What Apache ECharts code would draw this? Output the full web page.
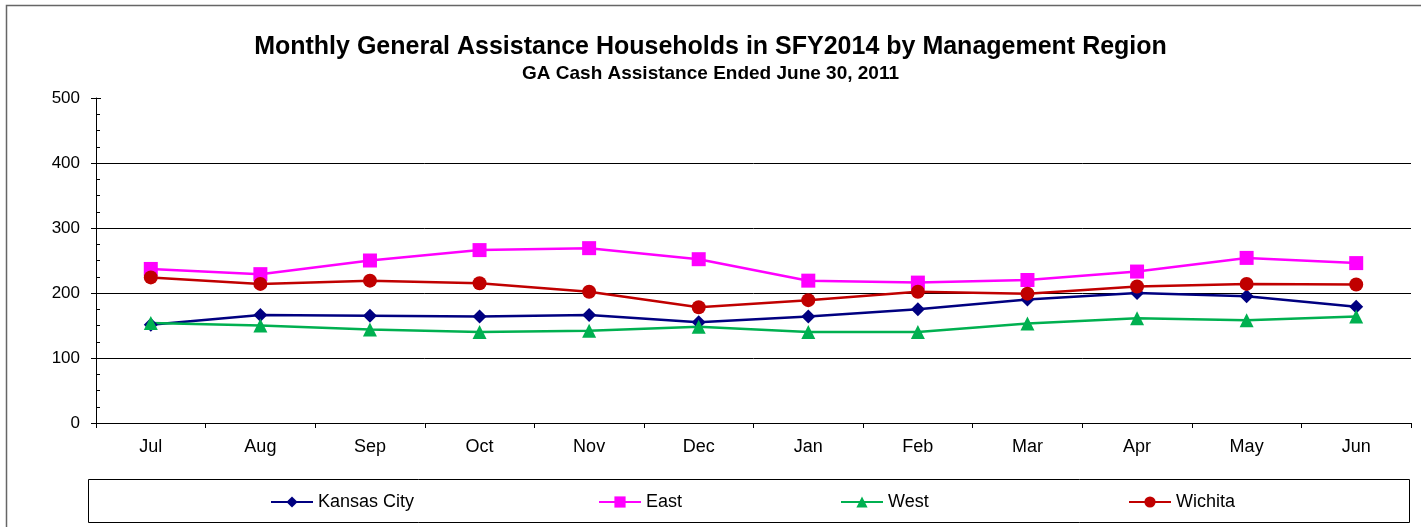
<!DOCTYPE html>
<html>
<head>
<meta charset="utf-8">
<script src="https://cdn.jsdelivr.net/npm/echarts@6/dist/echarts.min.js"></script>
<style>
  html, body { margin: 0; padding: 0; background: #fff; }
  #main { width: 1421px; height: 527px; }
</style>
</head>
<body>
<div id="main"></div>
<script>
// months of SFY2014
var months = ['Jul', 'Aug', 'Sep', 'Oct', 'Nov', 'Dec', 'Jan', 'Feb', 'Mar', 'Apr', 'May', 'Jun'];
// households per region
var kansasCity = [151, 166, 165, 164, 166, 155, 164, 175, 190, 200, 195, 179];
var east = [237, 229, 250, 266, 269, 252, 219, 216, 220, 233, 254, 246];
var west = [154, 150, 144, 140, 142, 148, 140, 140, 153, 161, 158, 164];
var wichita = [224, 214, 219, 215, 202, 178, 189, 202, 199, 210, 214, 213];

var font = 'Liberation Sans, Arial, sans-serif';

function makeSeries(name, data, color, symbol) {
	return {
		name: name,
		type: 'line',
		data: data,
		symbol: symbol,
		symbolSize: 14,
		lineStyle: { color: color, width: 2.5 },
		itemStyle: { color: color },
		emphasis: { disabled: true },
		z: 3
	};
}

function makeLegend(name, left) {
	return {
		data: [name],
		left: left,
		top: 493,
		padding: 0,
		itemWidth: 42,
		itemHeight: 14,
		itemGap: 4,
		textStyle: { fontFamily: font, fontSize: 18, color: '#000' },
		selectedMode: false
	};
}

var myChart = echarts.init(document.getElementById('main'));

var option = {
	animation: false,
	backgroundColor: '#fff',
	title: [{
		text: 'Monthly General Assistance Households in SFY2014 by Management Region',
		left: 'center',
		top: 30,
		textStyle: { fontFamily: font, fontSize: 25, fontWeight: 'bold', color: '#000' }
	}, {
		text: 'GA Cash Assistance Ended June 30, 2011',
		left: 'center',
		top: 59,
		textStyle: { fontFamily: font, fontSize: 19, fontWeight: 'bold', color: '#000' }
	}],
	graphic: [{
		type: 'rect',
		shape: { x: 6.5, y: 5.5, width: 1500, height: 600 },
		style: { fill: null, stroke: '#666', lineWidth: 1.5 },
		silent: true
	}, {
		type: 'rect',
		shape: { x: 88.5, y: 479.5, width: 1321, height: 43 },
		style: { fill: null, stroke: '#000', lineWidth: 1 },
		silent: true,
		z: -1
	}],
	legend: [
		makeLegend('Kansas City', 270),
		makeLegend('East', 598),
		makeLegend('West', 840),
		makeLegend('Wichita', 1128)
	],
	grid: { left: 96, right: 10, top: 98, bottom: 104 },
	xAxis: {
		type: 'category',
		data: months,
		boundaryGap: true,
		axisLine: { lineStyle: { color: '#000', width: 1 } },
		axisTick: { show: true, length: 5, lineStyle: { color: '#000' } },
		axisLabel: { fontFamily: font, fontSize: 18, color: '#000', margin: 15 }
	},
	yAxis: [{
		type: 'value',
		min: 0,
		max: 500,
		interval: 100,
		axisLine: { show: true, lineStyle: { color: '#000', width: 1 } },
		axisTick: { show: true, length: 5, lineStyle: { color: '#000' } },
		axisLabel: { fontFamily: font, fontSize: 17, color: '#000', margin: 16 },
		splitLine: { show: true, showMaxLine: false, showMinLine: false, lineStyle: { color: '#000', width: 1 } }
	}, {
		// inner ticks and minor ticks
		type: 'value',
		position: 'left',
		min: 0,
		max: 500,
		interval: 100,
		axisLine: { show: false },
		axisTick: { show: true, inside: true, length: 5, lineStyle: { color: '#000' } },
		minorTick: { show: true, splitNumber: 4, length: 4, lineStyle: { color: '#000' } },
		axisLabel: { show: false },
		splitLine: { show: false }
	}],
	series: [
		makeSeries('Kansas City', kansasCity, '#000080', 'diamond'),
		makeSeries('East', east, '#FF00FF', 'rect'),
		makeSeries('West', west, '#00B050', 'triangle'),
		makeSeries('Wichita', wichita, '#C00000', 'circle')
	]
};

myChart.setOption(option);
</script>
</body>
</html>
